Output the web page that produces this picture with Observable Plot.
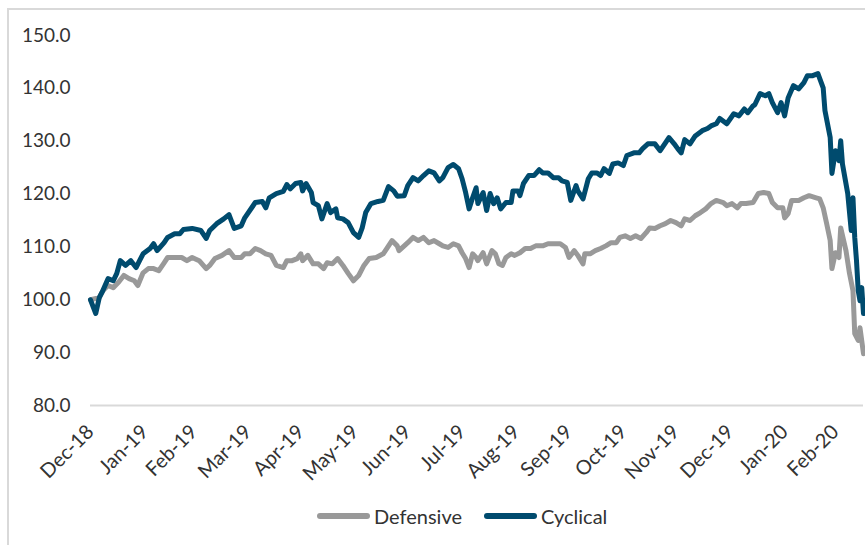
<!DOCTYPE html>
<html>
<head>
<meta charset="utf-8">
<script src="https://cdn.jsdelivr.net/npm/d3@7"></script>
<script src="https://cdn.jsdelivr.net/npm/@observablehq/plot@0.6"></script>
<style>
  html, body { margin: 0; padding: 0; background: #fff; overflow: hidden; }
  #wrap { position: relative; width: 865px; height: 545px; overflow: hidden; font-family: Lato, "Open Sans", sans-serif; }
  #frame { position: absolute; left: 7px; top: 8px; width: 880px; height: 560px; border: 2px solid #d9d9d9; box-sizing: border-box; }
  #chart { position: absolute; left: 0; top: 0; }
  #legend { position: absolute; left: 317px; top: 504px; display: flex; align-items: center; font-size: 20px; color: #333; }
  .sw { display: inline-block; width: 53px; height: 6px; border-radius: 3px; margin-right: 4px; }
  .item { display: flex; align-items: center; }
</style>
</head>
<body>
<div id="wrap">
  <div id="frame"></div>
  <div id="chart"></div>
  <div id="legend">
    <div class="item" style="margin-right:22px"><span class="sw" style="background:#999999"></span><span>Defensive</span></div>
    <div class="item"><span class="sw" style="background:#004b6e"></span><span>Cyclical</span></div>
  </div>
</div>
<script>
const yTicks = [80, 90, 100, 110, 120, 130, 140, 150];
const tickDates = ["2018-12-31","2019-01-31","2019-02-28","2019-03-31","2019-04-30","2019-05-31","2019-06-30","2019-07-31","2019-08-31","2019-09-30","2019-10-31","2019-11-30","2019-12-31","2020-01-31","2020-02-29"];

const cyclicalDates = ["2018-12-31","2019-01-03","2019-01-05","2019-01-07","2019-01-10","2019-01-13","2019-01-15","2019-01-17","2019-01-20","2019-01-23","2019-01-26","2019-01-28","2019-01-30","2019-02-03","2019-02-05","2019-02-07","2019-02-11","2019-02-13","2019-02-17","2019-02-20","2019-02-22","2019-02-27","2019-03-04","2019-03-07","2019-03-09","2019-03-13","2019-03-17","2019-03-20","2019-03-23","2019-03-27","2019-03-29","2019-04-04","2019-04-08","2019-04-10","2019-04-12","2019-04-16","2019-04-20","2019-04-22","2019-04-24","2019-04-27","2019-04-30","2019-05-01","2019-05-03","2019-05-06","2019-05-07","2019-05-10","2019-05-12","2019-05-15","2019-05-17","2019-05-20","2019-05-21","2019-05-24","2019-05-27","2019-05-30","2019-06-02","2019-06-04","2019-06-06","2019-06-09","2019-06-13","2019-06-16","2019-06-19","2019-06-22","2019-06-24","2019-06-28","2019-06-30","2019-07-03","2019-07-06","2019-07-09","2019-07-12","2019-07-15","2019-07-18","2019-07-20","2019-07-23","2019-07-26","2019-07-29","2019-07-31","2019-08-02","2019-08-04","2019-08-06","2019-08-08","2019-08-09","2019-08-12","2019-08-14","2019-08-16","2019-08-18","2019-08-20","2019-08-22","2019-08-25","2019-08-28","2019-08-29","2019-09-01","2019-09-02","2019-09-04","2019-09-07","2019-09-10","2019-09-13","2019-09-15","2019-09-18","2019-09-21","2019-09-24","2019-09-26","2019-09-29","2019-10-01","2019-10-04","2019-10-05","2019-10-08","2019-10-11","2019-10-13","2019-10-16","2019-10-18","2019-10-20","2019-10-23","2019-10-25","2019-10-28","2019-10-31","2019-11-02","2019-11-06","2019-11-09","2019-11-11","2019-11-14","2019-11-18","2019-11-21","2019-11-24","2019-11-26","2019-11-29","2019-12-01","2019-12-03","2019-12-05","2019-12-08","2019-12-11","2019-12-15","2019-12-18","2019-12-20","2019-12-23","2019-12-25","2019-12-29","2020-01-02","2020-01-05","2020-01-08","2020-01-10","2020-01-13","2020-01-14","2020-01-17","2020-01-20","2020-01-22","2020-01-24","2020-01-27","2020-01-29","2020-01-31","2020-02-02","2020-02-05","2020-02-08","2020-02-11","2020-02-13","2020-02-16","2020-02-19","2020-02-22","2020-02-23","2020-02-26","2020-02-27","2020-02-29","2020-03-02","2020-03-03","2020-03-04","2020-03-07","2020-03-09","2020-03-10","2020-03-11","2020-03-12","2020-03-13","2020-03-14","2020-03-15","2020-03-16"];
const cyclicalValues = [100.0,97.4,100.4,101.7,104.0,103.6,105.0,107.4,106.5,107.4,106.1,107.4,108.7,109.7,110.6,109.3,110.8,111.8,112.5,112.5,113.3,113.5,113.1,111.6,113.1,114.4,115.3,116.1,113.5,114.0,115.5,118.4,118.6,117.4,119.3,120.1,120.5,121.8,121.0,122.0,122.2,120.6,122.0,120.3,118.4,117.8,115.3,118.2,116.5,117.2,115.5,115.3,114.6,112.7,111.8,113.6,116.5,118.2,118.6,118.8,121.4,120.6,119.6,119.7,121.6,123.1,122.5,123.5,124.4,124.0,122.5,123.1,125.0,125.6,124.8,122.9,120.3,117.2,119.3,121.2,118.2,120.3,116.9,120.1,118.2,119.3,117.2,118.4,118.4,120.6,120.6,119.7,122.0,123.5,123.5,124.6,124.0,124.0,123.1,123.1,122.5,122.2,118.8,121.6,120.6,119.1,122.9,124.0,124.0,123.5,124.8,123.9,125.7,125.9,125.4,127.3,127.8,127.8,128.6,129.5,129.5,128.2,129.7,130.7,129.5,128.6,127.8,130.3,129.5,131.0,132.0,132.4,132.9,133.3,134.3,133.3,135.2,134.8,136.1,135.4,136.7,136.9,139.0,138.6,139.0,137.3,135.4,137.3,134.8,138.2,140.5,139.9,141.1,142.4,142.4,142.8,140.1,135.8,130.7,123.9,128.2,126.3,130.1,125.7,120.1,113.1,119.3,111.8,107.4,101.7,99.8,102.3,97.4];

const defensiveDates = ["2018-12-31","2019-01-05","2019-01-07","2019-01-10","2019-01-13","2019-01-16","2019-01-19","2019-01-22","2019-01-25","2019-01-27","2019-01-30","2019-02-02","2019-02-05","2019-02-08","2019-02-11","2019-02-13","2019-02-17","2019-02-21","2019-02-24","2019-02-27","2019-03-03","2019-03-07","2019-03-09","2019-03-12","2019-03-16","2019-03-20","2019-03-23","2019-03-27","2019-03-29","2019-04-01","2019-04-04","2019-04-07","2019-04-10","2019-04-13","2019-04-16","2019-04-20","2019-04-22","2019-04-25","2019-04-28","2019-04-30","2019-05-01","2019-05-04","2019-05-07","2019-05-10","2019-05-13","2019-05-15","2019-05-18","2019-05-21","2019-05-24","2019-05-27","2019-05-30","2019-06-02","2019-06-05","2019-06-08","2019-06-12","2019-06-16","2019-06-18","2019-06-21","2019-06-24","2019-06-25","2019-06-28","2019-06-30","2019-07-03","2019-07-06","2019-07-09","2019-07-12","2019-07-15","2019-07-18","2019-07-20","2019-07-23","2019-07-26","2019-07-29","2019-07-31","2019-08-02","2019-08-04","2019-08-06","2019-08-08","2019-08-09","2019-08-12","2019-08-14","2019-08-17","2019-08-19","2019-08-21","2019-08-23","2019-08-25","2019-08-28","2019-08-30","2019-09-02","2019-09-05","2019-09-08","2019-09-11","2019-09-15","2019-09-18","2019-09-22","2019-09-25","2019-09-28","2019-09-30","2019-10-03","2019-10-05","2019-10-08","2019-10-09","2019-10-12","2019-10-15","2019-10-18","2019-10-21","2019-10-24","2019-10-27","2019-10-29","2019-11-01","2019-11-04","2019-11-07","2019-11-10","2019-11-13","2019-11-15","2019-11-18","2019-11-21","2019-11-24","2019-11-27","2019-11-30","2019-12-03","2019-12-05","2019-12-08","2019-12-11","2019-12-14","2019-12-17","2019-12-20","2019-12-23","2019-12-27","2019-12-29","2020-01-01","2020-01-04","2020-01-06","2020-01-09","2020-01-13","2020-01-16","2020-01-19","2020-01-22","2020-01-24","2020-01-27","2020-01-30","2020-01-31","2020-02-02","2020-02-04","2020-02-08","2020-02-11","2020-02-14","2020-02-18","2020-02-20","2020-02-22","2020-02-24","2020-02-26","2020-02-27","2020-02-29","2020-03-02","2020-03-03","2020-03-06","2020-03-08","2020-03-10","2020-03-11","2020-03-13","2020-03-14","2020-03-16"];
const defensiveValues = [100.0,100.4,101.7,102.7,102.3,103.3,104.6,104.0,103.6,102.7,105.1,105.9,105.9,105.5,107.0,108.0,108.0,108.0,107.4,108.0,107.4,105.9,106.5,107.8,108.4,109.3,108.0,108.0,108.7,108.7,109.7,109.3,108.7,108.4,106.5,106.1,107.4,107.4,107.8,108.7,107.4,108.4,106.8,106.8,105.9,107.0,106.8,107.8,106.5,105.0,103.6,104.6,106.5,107.8,108.0,108.7,109.7,111.2,110.2,109.3,110.2,110.8,111.8,111.2,111.8,110.8,111.2,110.6,110.2,109.9,110.6,110.2,108.9,107.8,106.1,108.7,108.0,107.4,108.9,106.8,109.3,108.7,106.8,106.5,108.0,108.7,108.4,108.9,109.7,109.7,110.2,110.2,110.6,110.6,110.6,109.9,108.0,109.3,108.4,106.8,108.7,108.7,109.3,109.7,110.2,110.8,110.8,111.8,112.1,111.6,112.1,111.6,112.7,113.6,113.5,114.0,114.4,115.0,114.6,114.0,115.3,115.0,115.9,116.5,117.2,118.2,118.8,118.4,117.8,118.2,117.4,118.2,118.2,118.4,120.1,120.3,120.1,118.4,117.4,117.4,115.5,116.3,118.8,118.8,119.3,119.7,119.3,119.1,117.4,114.4,111.2,105.9,108.9,108.0,113.6,109.3,105.0,101.7,93.6,92.3,94.7,89.8];

const toRows = (dates, values, series) => dates.map((d, i) => ({date: new Date(d), value: values[i], series}));
const defensive = toRows(defensiveDates, defensiveValues, "Defensive");
const cyclical = toRows(cyclicalDates, cyclicalValues, "Cyclical");

const fmtMonth = d3.utcFormat("%b-%y");

const chart = Plot.plot({
  width: 865,
  height: 490,
  marginLeft: 90,
  marginRight: 2,
  marginTop: 35,
  marginBottom: 85,
  style: {fontFamily: "Lato, 'Open Sans', sans-serif", fontSize: "19px", color: "#333", background: "transparent", overflow: "visible"},
  x: {type: "utc", domain: [new Date("2018-12-31"), new Date("2020-03-16")], ticks: tickDates.map(d => new Date(d)), tickFormat: fmtMonth, tickRotate: -45, tickSize: 0, tickPadding: 23, label: null},
  y: {domain: [80, 150], ticks: yTicks, tickFormat: d => d.toFixed(1), tickSize: 0, tickPadding: 20, label: null},
  marks: [
    Plot.ruleY([80], {stroke: "#d9d9d9", strokeWidth: 2}),
    Plot.line(defensive, {x: "date", y: "value", stroke: "#999999", strokeWidth: 5, strokeLinejoin: "round", strokeLinecap: "round"}),
    Plot.line(cyclical, {x: "date", y: "value", stroke: "#004b6e", strokeWidth: 5, strokeLinejoin: "round", strokeLinecap: "round"})
  ]
});
chart.querySelectorAll("[aria-label='x-axis tick label']").forEach(g => g.setAttribute("font-size", "20"));
document.getElementById("chart").appendChild(chart);
</script>
</body>
</html>
